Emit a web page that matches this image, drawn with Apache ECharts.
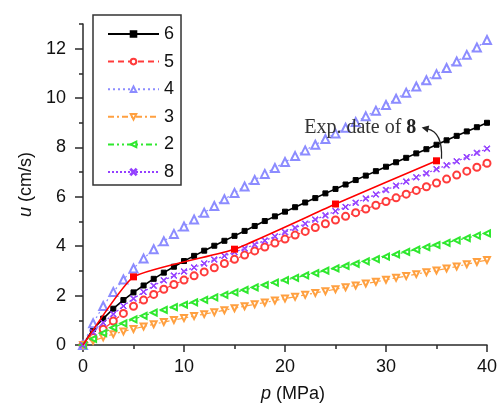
<!DOCTYPE html>
<html>
<head>
<meta charset="utf-8">
<script src="https://cdn.jsdelivr.net/npm/echarts@6/dist/echarts.min.js"></script>
<style>
html, body { margin: 0; padding: 0; background: #fff; }
#chart { width: 500px; height: 408px; }
</style>
</head>
<body>
<div id="chart"></div>
<script>
// Pressure p (MPa), one computed point per MPa
const pressure = [0,1,2,3,4,5,6,7,8,9,10,11,12,13,14,15,16,17,18,19,20,
  21,22,23,24,25,26,27,28,29,30,31,32,33,34,35,36,37,38,39,40];

// Velocity u (cm/s) for each case
const u6 = [0,0.65,1.07,1.47,1.82,2.13,2.41,2.68,2.93,3.17,3.40,
  3.61,3.82,4.02,4.22,4.42,4.62,4.82,5.02,5.21,5.40,
  5.58,5.77,5.95,6.14,6.32,6.50,6.68,6.86,7.04,7.22,
  7.40,7.58,7.76,7.93,8.11,8.29,8.47,8.65,8.82,9.00];
const u5 = [0,0.30,0.64,0.97,1.28,1.57,1.82,2.05,2.26,2.45,2.63,
  2.80,2.96,3.13,3.30,3.47,3.64,3.81,3.97,4.13,4.29,
  4.45,4.60,4.76,4.91,5.06,5.21,5.36,5.51,5.66,5.81,
  5.96,6.11,6.26,6.41,6.56,6.72,6.88,7.04,7.20,7.36];
const u4 = [0,0.88,1.58,2.15,2.65,3.10,3.50,3.88,4.20,4.50,4.80,
  5.08,5.36,5.63,5.90,6.16,6.42,6.68,6.93,7.17,7.41,
  7.65,7.88,8.11,8.34,8.57,8.80,9.03,9.26,9.49,9.72,
  9.97,10.22,10.47,10.72,10.97,11.22,11.48,11.75,12.05,12.35];
const u3 = [0,0.17,0.31,0.44,0.55,0.65,0.75,0.84,0.93,1.01,1.09,
  1.17,1.25,1.33,1.41,1.49,1.57,1.65,1.72,1.80,1.88,
  1.95,2.03,2.11,2.18,2.26,2.34,2.41,2.49,2.56,2.64,
  2.72,2.79,2.87,2.95,3.02,3.10,3.18,3.27,3.36,3.44];
const u2 = [0,0.25,0.48,0.70,0.88,1.04,1.18,1.31,1.42,1.53,1.63,
  1.73,1.83,1.93,2.03,2.13,2.23,2.33,2.43,2.53,2.63,
  2.72,2.82,2.91,3.01,3.10,3.20,3.29,3.39,3.48,3.58,
  3.67,3.77,3.86,3.96,4.05,4.14,4.24,4.33,4.43,4.52];
const u8 = [0,0.52,0.90,1.25,1.58,1.88,2.15,2.40,2.62,2.81,2.98,
  3.14,3.30,3.46,3.61,3.76,3.91,4.07,4.23,4.40,4.57,
  4.74,4.91,5.08,5.25,5.42,5.59,5.76,5.93,6.10,6.28,
  6.45,6.62,6.79,6.95,7.12,7.28,7.44,7.61,7.78,7.95];

// Experimental data for case 8
const expP = [0, 5, 15, 25, 35];
const expU = [0, 2.76, 3.88, 5.71, 7.46];

// Legend names and axis ticks
const caseNames = ['6', '5', '4', '3', '2', '8'];
const xTicks = [0, 10, 20, 30, 40];
const yMajorTicks = [0, 2, 4, 6, 8, 10, 12];
const yMinorTicks = [1, 3, 5, 7, 9, 11, 13];
const annotationText = 'Exp. date of ';
const annotationBold = '8';

const FONT = '"Liberation Sans", Arial, sans-serif';
const SERIF = '"Liberation Serif", "Times New Roman", serif';
const AXIS_COLOR = '#2a2a2a';

function pairs(xs, ys) { return xs.map((x, i) => [x, ys[i]]); }

const crossPath = 'path://M1,0 L5,4 L9,0 L10,1 L6,5 L10,9 L9,10 L5,6 L1,10 L0,9 L4,5 L0,1 Z';

const styles = {
  '6': { color: '#000000', symbol: 'rect', size: 5, rotate: 0, type: 'solid', width: 1.6 },
  '5': { color: '#ff3b3b', symbol: 'emptyCircle', size: 7, rotate: 0, type: [6, 4], width: 1.2 },
  '4': { color: '#8c8cff', symbol: 'emptyTriangle', size: 8, rotate: 0, type: [2, 3], width: 1.2 },
  '3': { color: '#ffa040', symbol: 'emptyTriangle', size: 6, rotate: 180, type: [6, 3, 2, 3], width: 1.2 },
  '2': { color: '#2ee82e', symbol: 'emptyTriangle', size: 6, rotate: 90, type: [6, 3, 2, 3, 2, 3], width: 1.2 },
  '8': { color: '#9440ff', symbol: crossPath, size: 6, rotate: 0, type: [2, 2], width: 1.2 }
};
const caseValues = { '6': u6, '5': u5, '4': u4, '3': u3, '2': u2, '8': u8 };

const series = caseNames.map(name => {
  const s = styles[name];
  return {
    name: name,
    type: 'line',
    data: pairs(pressure, caseValues[name]),
    symbol: s.symbol,
    symbolSize: s.size,
    symbolRotate: s.rotate,
    showAllSymbol: true,
    itemStyle: { color: s.color, borderColor: s.color, borderWidth: 1 },
    lineStyle: { color: s.color, width: s.width, type: s.type },
    emphasis: { disabled: true },
    animation: false
  };
});

const expData = pairs(expP, expU).map((d, i) => i === 0 ? { value: d, symbol: 'none' } : d);
series.push({
  name: 'exp8',
  type: 'line',
  data: expData,
  symbol: 'rect',
  symbolSize: 7,
  smooth: 0.15,
  itemStyle: { color: '#ff0000' },
  lineStyle: { color: '#ff0000', width: 1.6 },
  emphasis: { disabled: true },
  animation: false,
  z: 5
});

const chart = echarts.init(document.getElementById('chart'), null, { renderer: 'canvas' });

chart.setOption({
  animation: false,
  backgroundColor: '#ffffff',
  grid: { left: 83, right: 9.5, top: 24, bottom: 62 },
  legend: {
    data: caseNames,
    orient: 'vertical',
    left: 93,
    top: 15,
    padding: [10, 7, 4, 14],
    itemWidth: 51,
    itemHeight: 7,
    itemGap: 9.6,
    borderColor: '#333',
    borderWidth: 1.5,
    backgroundColor: '#fff',
    selectedMode: false,
    textStyle: { fontFamily: FONT, fontSize: 18, color: '#111' }
  },
  xAxis: {
    type: 'value',
    min: 0, max: 40, interval: 10,
    name: '{i|p} (MPa)',
    nameLocation: 'middle',
    nameGap: 40,
    nameTextStyle: {
      fontFamily: FONT, fontSize: 18, color: '#111', padding: [0, 0, 0, 16],
      rich: { i: { fontFamily: FONT, fontSize: 18, fontStyle: 'italic', color: '#111' } }
    },
    axisLine: { show: true, lineStyle: { color: AXIS_COLOR, width: 1.5 } },
    axisTick: { show: true, inside: false, length: 7, lineStyle: { color: AXIS_COLOR, width: 1.5 } },
    minorTick: { show: true, splitNumber: 2, length: 4, lineStyle: { color: AXIS_COLOR, width: 1.5 } },
    axisLabel: { customValues: xTicks, fontFamily: FONT, fontSize: 18, color: '#111', margin: 13 },
    splitLine: { show: false },
    minorSplitLine: { show: false }
  },
  yAxis: [{
    type: 'value',
    min: 0, max: 13, interval: 1,
    name: '{i|u} (cm/s)',
    nameLocation: 'middle',
    nameGap: 41,
    nameRotate: 90,
    nameTextStyle: {
      fontFamily: FONT, fontSize: 18, color: '#111', padding: [0, 0, 0, 0],
      rich: { i: { fontFamily: FONT, fontSize: 18, fontStyle: 'italic', color: '#111' } }
    },
    axisLine: { show: true, lineStyle: { color: AXIS_COLOR, width: 1.5 } },
    axisTick: { show: true, customValues: yMajorTicks, length: 8, lineStyle: { color: AXIS_COLOR, width: 1.5 } },
    axisLabel: { customValues: yMajorTicks, fontFamily: FONT, fontSize: 18, color: '#111', margin: 17 },
    splitLine: { show: false }
  }, {
    type: 'value',
    position: 'left',
    min: 0, max: 13, interval: 1,
    axisLine: { show: false },
    axisTick: { show: true, customValues: yMinorTicks, length: 4, lineStyle: { color: AXIS_COLOR, width: 1.5 } },
    axisLabel: { show: false },
    splitLine: { show: false }
  }],
  series: series
});

// Annotation pointing at the last experimental point
const P = chart.convertToPixel({ xAxisIndex: 0, yAxisIndex: 0 }, [expP[4], expU[4]]);
const T = chart.convertToPixel({ xAxisIndex: 0, yAxisIndex: 0 }, [21.9, 8.79]);
const start = [P[0] + 5, P[1] - 2];
const cp1 = [P[0] + 6, P[1] - 22];
const cp2 = [P[0] + 0, P[1] - 30];
const end = [P[0] - 9, P[1] - 32];
const dx = end[0] - cp2[0], dy = end[1] - cp2[1];
const len = Math.sqrt(dx * dx + dy * dy);
const ux = dx / len, uy = dy / len;
const tip = [end[0] + ux * 6, end[1] + uy * 6];
const base = [end[0] - ux * 1, end[1] - uy * 1];
const half = 3.5;
const head = [tip, [base[0] - uy * half, base[1] + ux * half], [base[0] + uy * half, base[1] - ux * half]];

chart.setOption({
  graphic: [{
    type: 'bezierCurve',
    shape: { x1: start[0], y1: start[1], cpx1: cp1[0], cpy1: cp1[1], cpx2: cp2[0], cpy2: cp2[1], x2: end[0], y2: end[1] },
    style: { stroke: '#222', lineWidth: 1.3, fill: null },
    z: 100
  }, {
    type: 'polygon',
    shape: { points: head },
    style: { fill: '#222' },
    z: 100
  }, {
    type: 'text',
    x: T[0],
    y: T[1],
    style: {
      text: '{n|' + annotationText + '}{b|' + annotationBold + '}',
      verticalAlign: 'middle',
      align: 'left',
      rich: {
        n: { fontFamily: SERIF, fontSize: 20, fill: '#333' },
        b: { fontFamily: SERIF, fontSize: 20, fontWeight: 'bold', fill: '#222' }
      }
    },
    z: 100
  }]
});
</script>
</body>
</html>
